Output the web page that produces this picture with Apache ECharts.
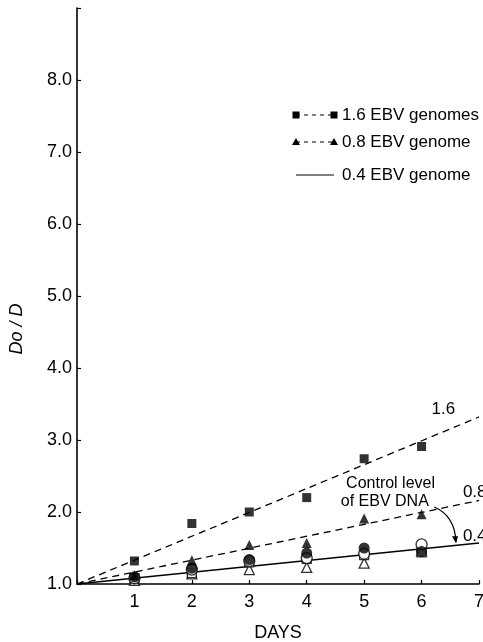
<!DOCTYPE html>
<html>
<head>
<meta charset="utf-8">
<script src="https://cdn.jsdelivr.net/npm/echarts@6/dist/echarts.min.js"></script>
<style>
html,body{margin:0;padding:0;background:#fff;}
#c{width:483px;height:642px;}
</style>
</head>
<body>
<div id="c"></div>
<script>
// ---- data ----
var days = [1, 2, 3, 4, 5, 6];
var yTicks = [1, 2, 3, 4, 5, 6, 7, 8];
var xTicks = [1, 2, 3, 4, 5, 6, 7];
var sq16   = [1.32, 1.84, 2.00, 2.20, 2.74, 2.91];   // 1.6 EBV genomes (filled squares)
var tri08  = [1.12, 1.33, 1.54, 1.57, 1.91, 1.97];   // 0.8 EBV genome (filled triangles)
var circ04 = [1.10, 1.22, 1.34, 1.43, 1.50, 1.45];   // 0.4 EBV genome (filled circles)
var openCirc = [1.08, 1.20, 1.32, 1.36, 1.42, 1.55]; // controls (open circles)
var openSq   = [1.08, 1.15, 1.30, 1.35, 1.40, 1.44]; // controls (open squares)
var openTri  = [1.05, 1.14, 1.20, 1.23, 1.29, 1.46]; // controls (open triangles)
var fitX   = [0, 7];
var fit16  = [1.0, 3.32];
var fit08  = [1.0, 2.16];
var fit04  = [1.0, 1.57];

function pairs(xs, ys){ return xs.map(function(x,i){ return [x, ys[i]]; }); }

var FONT = 'Liberation Sans';
var chart = echarts.init(document.getElementById('c'), null, {renderer:'canvas'});

function scatter(name, vals, symbol, size, filled){
  return {
    type:'scatter', name:name, data:pairs(days, vals), symbol:symbol, symbolSize:size,
    itemStyle: filled ? {color:'#000'} : {color:'#fff', borderColor:'#000', borderWidth:1.3},
    z: filled ? 5 : 4
  };
}

var option = {
  animation:false,
  backgroundColor:'#fff',
  grid:{left:77, right:4, top:8, bottom:58, containLabel:false, outerBoundsMode:'none'},
  xAxis:{
    type:'value', min:0, max:7, interval:1,
    axisLine:{show:true, onZero:false, lineStyle:{color:'#000', width:1.6}},
    axisTick:{show:true, inside:true, length:4, lineStyle:{color:'#000', width:1.2}},
    splitLine:{show:false},
    axisLabel:{color:'#000', fontFamily:FONT, fontSize:18, margin:9,
      formatter:function(v){ return xTicks.indexOf(v) >= 0 ? String(v) : ''; }},
    name:'DAYS', nameLocation:'middle', nameGap:40,
    nameTextStyle:{color:'#000', fontFamily:FONT, fontSize:18}
  },
  yAxis:{
    type:'value', min:1, max:9, interval:1,
    axisLine:{show:true, lineStyle:{color:'#000', width:1.6}},
    axisTick:{show:true, inside:true, length:4, lineStyle:{color:'#000', width:1.2}},
    splitLine:{show:false},
    axisLabel:{color:'#000', fontFamily:FONT, fontSize:18, margin:5,
      formatter:function(v){ return (v >= 1 && v <= 8) ? v.toFixed(1) : ''; }}
  },
  series:[
    {type:'line', name:'fit 1.6', data:pairs(fitX, fit16), symbol:'none',
     lineStyle:{color:'#000', width:1.3, type:[7,5]}, z:2},
    {type:'line', name:'fit 0.8', data:pairs(fitX, fit08), symbol:'none',
     lineStyle:{color:'#000', width:1.3, type:[7,5]}, z:2},
    {type:'line', name:'fit 0.4', data:pairs(fitX, fit04), symbol:'none',
     lineStyle:{color:'#000', width:1.5, type:'solid'}, z:2},
    scatter('open triangles', openTri, 'triangle', 10, false),
    scatter('open squares', openSq, 'rect', 9, false),
    scatter('open circles', openCirc, 'circle', 11, false),
    scatter('0.4 EBV genome', circ04, 'circle', 11, true),
    scatter('0.8 EBV genome', tri08, 'triangle', 10, true),
    scatter('1.6 EBV genomes', sq16, 'rect', 9, true)
  ]
};
chart.setOption(option);

function px(x, y){ return chart.convertToPixel({gridIndex:0}, [x, y]); }

var lg = [];
// y-axis title
lg.push({type:'text', x:17, y:329, rotation:Math.PI/2,
  style:{text:'Do / D', fill:'#000', font:'italic 18px "' + FONT + '"',
    textAlign:'center', textVerticalAlign:'middle'}});

// legend (decoration) at top right
function legRow(y, sym, dashed, text){
  var x0 = 296, x1 = 334;
  lg.push({type:'line', shape:{x1:x0, y1:y, x2:x1, y2:y},
    style:{stroke:'#000', lineWidth:1.2, lineDash: dashed ? [4,4] : null}});
  if (sym === 'rect') {
    lg.push({type:'rect', shape:{x:x0-3.5, y:y-3.5, width:7, height:7}, style:{fill:'#000'}});
    lg.push({type:'rect', shape:{x:x1-3.5, y:y-3.5, width:7, height:7}, style:{fill:'#000'}});
  } else if (sym === 'tri') {
    lg.push({type:'polygon', shape:{points:[[x0,y-4],[x0-4,y+3],[x0+4,y+3]]}, style:{fill:'#000'}});
    lg.push({type:'polygon', shape:{points:[[x1,y-4],[x1-4,y+3],[x1+4,y+3]]}, style:{fill:'#000'}});
  }
  lg.push({type:'text', x:342, y:y, style:{text:text, fill:'#000', font:'17px "' + FONT + '"',
    textVerticalAlign:'middle', textAlign:'left'}});
}
legRow(115, 'rect', true, '1.6 EBV genomes');
legRow(142, 'tri', true, '0.8 EBV genome');
legRow(175, 'none', false, '0.4 EBV genome');

// line labels and annotation
function txt(x, y, s, align, size){
  var p = px(x, y);
  return {type:'text', x:p[0], y:p[1], style:{text:s, fill:'#000', font:(size||17) + 'px "' + FONT + '"',
    textAlign:align || 'center', textVerticalAlign:'middle'}};
}
lg.push(txt(6.38, 3.42, '1.6'));
lg.push(txt(6.72, 2.27, '0.8', 'left'));
lg.push(txt(6.72, 1.66, '0.4', 'left'));
lg.push(txt(5.46, 2.39, 'Control level', 'center', 16));
lg.push(txt(5.36, 2.15, 'of EBV DNA', 'center', 16));
var a0 = px(6.22, 2.07), a1 = px(6.6, 1.58), ac = px(6.58, 1.95);
lg.push({type:'bezierCurve', shape:{x1:a0[0], y1:a0[1], x2:a1[0], y2:a1[1], cpx1:ac[0], cpy1:ac[1]},
  style:{stroke:'#000', lineWidth:1.2, fill:null}});
lg.push({type:'polygon', shape:{points:[[a1[0], a1[1]+1],[a1[0]-4, a1[1]-6],[a1[0]+2, a1[1]-6]]},
  style:{fill:'#000'}});

chart.setOption({graphic:lg});
</script>
</body>
</html>
